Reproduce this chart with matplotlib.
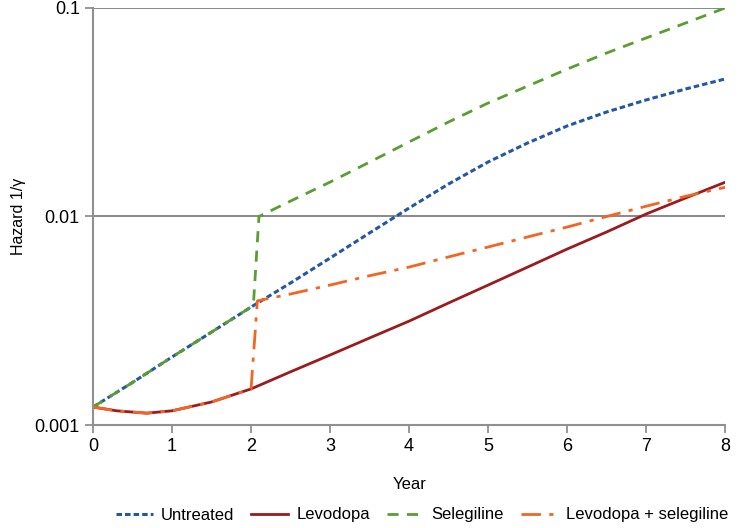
import matplotlib.pyplot as plt
import numpy as np

plt.rcParams['font.family'] = ['Liberation Sans', 'DejaVu Sans']

# Hazard curves
years = [0, 0.5, 1, 1.5, 2, 2.5, 3, 3.5, 4, 4.5, 5, 5.5, 6, 6.5, 7, 7.5, 8]
untreated = [0.00122, 0.0016, 0.00212, 0.00279, 0.00368, 0.0048, 0.00632, 0.00834,
             0.01098, 0.01432, 0.01826, 0.02252, 0.02717, 0.0317, 0.03621, 0.04088, 0.04566]

lev_years = [0, 0.3, 0.68, 1, 1.5, 2, 2.5, 3, 3.5, 4, 4.5, 5, 5.5, 6, 6.5, 7, 7.5, 8]
levodopa = [0.00122, 0.00117, 0.00114, 0.00117, 0.00129, 0.00149, 0.0018, 0.002167, 0.002615,
            0.00315, 0.00385, 0.00469, 0.00572, 0.00698, 0.00843, 0.01028, 0.01227, 0.0146]

sel_years = [0, 0.5, 1, 1.5, 2, 2.03, 2.1, 2.5, 3, 3.5, 4, 4.5, 5, 5.5, 6, 6.5, 7, 7.5, 8]
selegiline = [0.00122, 0.0016, 0.00212, 0.00279, 0.00368, 0.0038, 0.0100, 0.01186, 0.01462,
              0.01823, 0.02277, 0.02839, 0.035, 0.0422, 0.0509, 0.0608, 0.0718, 0.0847, 0.1]

combo_years = [0, 0.3, 0.68, 1, 1.5, 2, 2.08, 2.5, 3, 3.5, 4, 4.5, 5, 5.5, 6, 6.5, 7, 7.5, 8]
combo = [0.00122, 0.00117, 0.00114, 0.00117, 0.00129, 0.00149, 0.00394, 0.00425, 0.00469,
         0.0052, 0.00572, 0.0064, 0.00714, 0.00798, 0.0089, 0.0100, 0.0112, 0.0125, 0.0138]

fig, ax = plt.subplots(figsize=(7.5, 5.28), dpi=100)
fig.subplots_adjust(left=0.124, right=0.967, top=0.985, bottom=0.195)

ax.plot(years, untreated, color='#2457a6', lw=2.2, ls=(0, (1.8, 1.0)), label='Untreated')
ax.plot(lev_years, levodopa, color='#9b1b1e', lw=2.0, label='Levodopa')
ax.plot(sel_years, selegiline, color='#5a9e32', lw=2.0, ls=(0, (4, 3)), label='Selegiline')
ax.plot(combo_years, combo, color='#f26522', lw=2.0, ls=(0, (7, 3, 1.5, 3)),
        label='Levodopa + selegiline')

ax.set_yscale('log')
ax.set_xlim(0, 8)
ax.set_ylim(0.001, 0.1)
ax.set_yticks([0.001, 0.01, 0.1])
ax.set_yticklabels(['0.001', '0.01', '0.1'])
ax.yaxis.set_minor_locator(plt.NullLocator())
ax.set_xticks(range(9))

ax.grid(True, axis='y', color='#808080', lw=1.3)
ax.set_axisbelow(True)
for s in ['top', 'right']:
    ax.spines[s].set_visible(False)
for s in ['left', 'bottom']:
    ax.spines[s].set_color('#909090')
    ax.spines[s].set_linewidth(1.5)
ax.tick_params(colors='#909090', labelcolor='black', labelsize=13, width=1.3, length=6)

ax.set_xlabel('Year', fontsize=12, labelpad=16)
ax.set_ylabel('Hazard 1/γ', fontsize=11.5, labelpad=6)

fig.legend(*ax.get_legend_handles_labels(), loc='center', bbox_to_anchor=(422 / 750, 1 - 515 / 528),
           ncol=4, frameon=False, fontsize=12, handlelength=2.2, columnspacing=1.0,
           handletextpad=0.5)

plt.savefig('out.png')
